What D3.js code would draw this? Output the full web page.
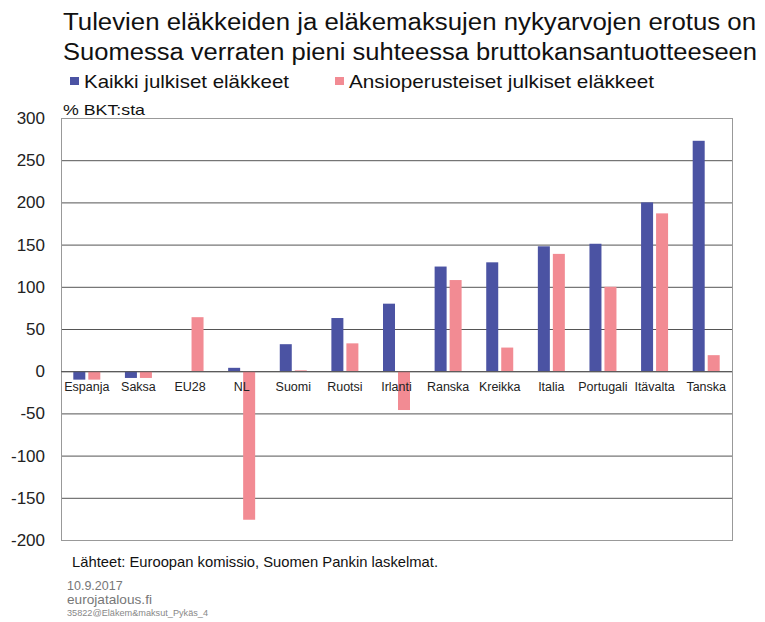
<!DOCTYPE html>
<html><head><meta charset="utf-8">
<script src="https://cdn.jsdelivr.net/npm/d3@7"></script>
<style>body{margin:0;background:#fff}svg{font-family:"Liberation Sans",Arial,sans-serif}</style>
</head><body><svg id="c" width="765" height="622"></svg>
<script>
const categories = ["Espanja","Saksa","EU28","NL","Suomi","Ruotsi","Irlanti","Ranska","Kreikka","Italia","Portugali","Itävalta","Tanska"];
const kaikki = [-10,-8,0,4,32,63,80,124,129,148,151,200,273];
const ansio = [-10,-8,64,-176,1,33,-46,108,28,139,100,187,19];
const yTicks = [300,250,200,150,100,50,0,-50,-100,-150,-200];
const seriesNames = ["Kaikki julkiset eläkkeet","Ansioperusteiset julkiset eläkkeet"];
const colors = ["#4b53a3","#f28b93"];

const svg = d3.select("#c");
const L=61, R=732, T=118, B=540;
const x = d3.scaleBand().domain(categories).range([L,R]);
const y = d3.scaleLinear().domain([-200,300]).range([B,T]);

// title
const title = ["Tulevien eläkkeiden ja eläkemaksujen nykyarvojen erotus on","Suomessa verraten pieni suhteessa bruttokansantuotteeseen"];
title.forEach((t,i)=>svg.append("text").attr("x",63).attr("y",30+i*30).attr("font-size",23).attr("fill","#111")
  .attr("textLength",i==0?693:694).attr("lengthAdjust","spacingAndGlyphs").text(t));

// legend
const lx=[70,335];
const lw=[205,305];
seriesNames.forEach((n,i)=>{
  svg.append("rect").attr("x",lx[i]).attr("y",77).attr("width",9).attr("height",8).attr("fill",colors[i]);
  svg.append("text").attr("x",lx[i]+14).attr("y",88).attr("font-size",19).attr("fill","#111")
    .attr("textLength",lw[i]).attr("lengthAdjust","spacingAndGlyphs").text(n);
});
svg.append("text").attr("x",63).attr("y",115).attr("font-size",15).attr("fill","#111")
  .attr("textLength",82).attr("lengthAdjust","spacingAndGlyphs").text("% BKT:sta");

// grid
svg.append("g").selectAll("line").data(yTicks.filter(d=>d!==300&&d!==-200)).join("line")
  .attr("x1",L).attr("x2",R).attr("y1",d=>y(d)+0.5).attr("y2",d=>y(d)+0.5).attr("stroke","#555").attr("stroke-width",1);
svg.append("rect").attr("x",L+0.5).attr("y",T+0.5).attr("width",R-L).attr("height",B-T).attr("fill","none").attr("stroke","#999");

// y labels
svg.append("g").selectAll("text").data(yTicks).join("text")
  .attr("x",45).attr("y",d=>y(d)+6).attr("text-anchor","end").attr("font-size",17).attr("fill","#222").text(d=>d);

// bars
const bw=12, gap=3;
[kaikki,ansio].forEach((vals,s)=>{
  svg.append("g").selectAll("rect").data(vals).join("rect")
    .attr("x",(d,i)=>x(categories[i])+x.bandwidth()/2 + (s==0? -bw-gap/2: gap/2))
    .attr("width",bw)
    .attr("y",d=>Math.min(y(d),y(0)))
    .attr("height",d=>Math.abs(y(d)-y(0)))
    .attr("fill",colors[s]);
});
// zero line on top
svg.append("line").attr("x1",L).attr("x2",R).attr("y1",y(0)+0.5).attr("y2",y(0)+0.5).attr("stroke","#555");

// category labels
svg.append("g").selectAll("text").data(categories).join("text")
  .attr("x",d=>x(d)+x.bandwidth()/2).attr("y",y(0)+20).attr("text-anchor","middle").attr("font-size",12.5).attr("fill","#222").text(d=>d);

// footer
svg.append("text").attr("x",72).attr("y",567).attr("font-size",15).attr("fill","#111")
  .attr("textLength",366).attr("lengthAdjust","spacingAndGlyphs").text("Lähteet: Euroopan komissio, Suomen Pankin laskelmat.");
svg.append("text").attr("x",67).attr("y",590).attr("font-size",12.5).attr("fill","#777").text("10.9.2017");
svg.append("text").attr("x",67).attr("y",604).attr("font-size",13).attr("fill","#777")
  .attr("textLength",85).attr("lengthAdjust","spacingAndGlyphs").text("eurojatalous.fi");
svg.append("text").attr("x",67).attr("y",616).attr("font-size",9).attr("fill","#888")
  .attr("textLength",141).attr("lengthAdjust","spacingAndGlyphs").text("35822@Eläkem&maksut_Pykäs_4");
</script></body></html>
